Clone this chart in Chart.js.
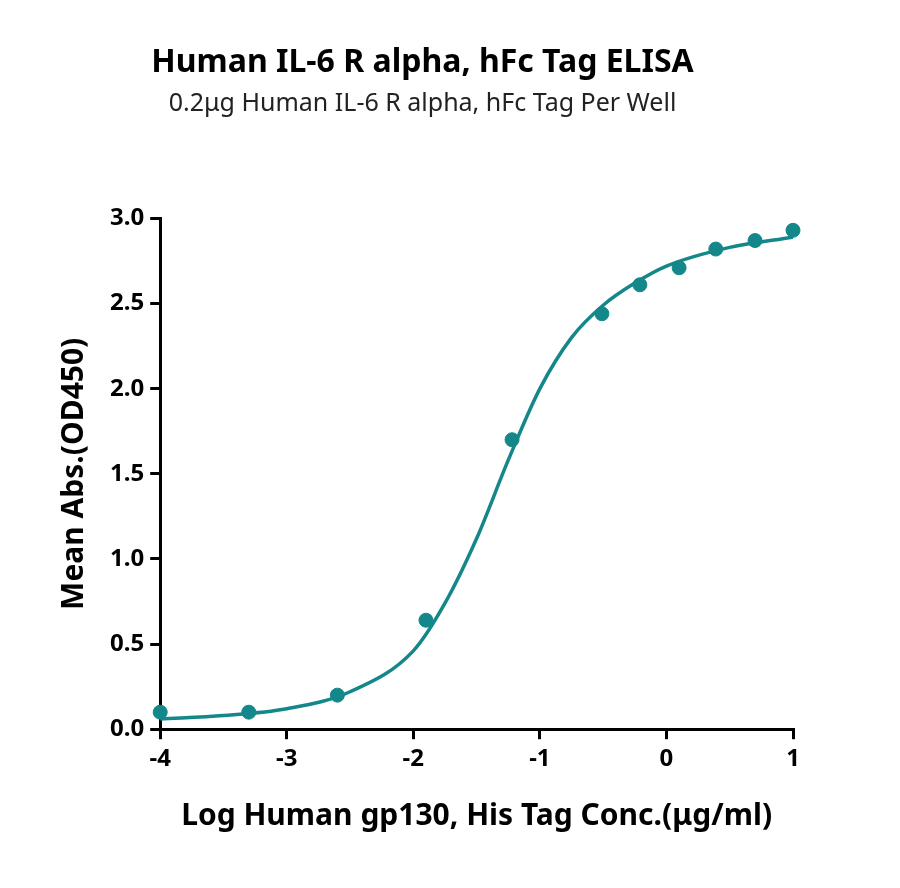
<!DOCTYPE html>
<html>
<head>
<meta charset="utf-8">
<script src="https://cdn.jsdelivr.net/npm/chart.js@4"></script>
<style>
  html, body { margin: 0; padding: 0; background: #fff; }
  #wrap { width: 900px; height: 888px; }
</style>
</head>
<body>
<div id="wrap"><canvas id="chart" width="900" height="888"></canvas></div>
<script>
// ─── Data ─────────────────────────────────────────────────────────────────────
const logConc = [-4, -3.3, -2.6, -1.9, -1.22, -0.51, -0.21, 0.1, 0.39, 0.7, 1.0];
const meanAbs = [0.10, 0.10, 0.20, 0.64, 1.70, 2.44, 2.61, 2.71, 2.82, 2.87, 2.93];

// fitted curve
const fitX = [-4, -3.5, -3, -2.5, -2, -1.75, -1.5, -1.25, -1, -0.75, -0.5, -0.25, 0, 0.5, 1];
const fitY = [0.06, 0.08, 0.12, 0.22, 0.46, 0.74, 1.12, 1.58, 2.00, 2.30, 2.49, 2.62, 2.72, 2.83, 2.89];

const xTicks = [-4, -3, -2, -1, 0, 1];
const yTicks = [0, 0.5, 1, 1.5, 2, 2.5, 3];

const teal = '#14878a';
const fontFam = '"Noto Sans", "Open Sans", sans-serif';

new Chart(document.getElementById('chart'), {
  type: 'scatter',
  data: {
    datasets: [
      {
        type: 'line',
        data: fitX.map((x, i) => ({ x, y: fitY[i] })),
        borderColor: teal,
        borderWidth: 3.5,
        pointRadius: 0,
        cubicInterpolationMode: 'monotone',
        fill: false
      },
      {
        data: logConc.map((x, i) => ({ x, y: meanAbs[i] })),
        backgroundColor: teal,
        borderColor: teal,
        pointRadius: 7,
        clip: false
      }
    ]
  },
  options: {
    responsive: false,
    animation: false,
    layout: { padding: { left: 52, right: 107, top: 26, bottom: 50 } },
    plugins: {
      legend: { display: false },
      tooltip: { enabled: false },
      title: {
        display: true,
        text: 'Human IL-6 R alpha, hFc Tag ELISA',
        color: '#000',
        font: { family: fontFam, size: 32, weight: 'bold' },
        padding: { top: 18, bottom: 6 }
      },
      subtitle: {
        display: true,
        text: '0.2μg Human IL-6 R alpha, hFc Tag Per Well',
        color: '#222',
        font: { family: fontFam, size: 25 },
        padding: { bottom: 100 }
      }
    },
    scales: {
      x: {
        type: 'linear',
        min: -4, max: 1,
        afterBuildTicks: s => { s.ticks = xTicks.map(v => ({ value: v })); },
        border: { color: '#000', width: 3 },
        grid: { drawOnChartArea: false, drawTicks: true, tickLength: 10, color: '#000', lineWidth: 3 },
        ticks: { color: '#000', font: { family: fontFam, size: 24, weight: 'bold' }, padding: 6 },
        title: {
          display: true,
          text: 'Log Human gp130, His Tag Conc.(μg/ml)',
          color: '#000',
          font: { family: fontFam, size: 30, weight: 'bold' },
          padding: { top: 18 }
        }
      },
      y: {
        type: 'linear',
        min: 0, max: 3,
        afterBuildTicks: s => { s.ticks = yTicks.map(v => ({ value: v })); },
        border: { color: '#000', width: 3 },
        grid: { drawOnChartArea: false, drawTicks: true, tickLength: 10, color: '#000', lineWidth: 3 },
        ticks: {
          color: '#000',
          font: { family: fontFam, size: 24, weight: 'bold' },
          padding: 6,
          callback: v => v.toFixed(1)
        },
        title: {
          display: true,
          text: 'Mean Abs.(OD450)',
          color: '#000',
          font: { family: fontFam, size: 30, weight: 'bold' },
          padding: { bottom: 12 }
        }
      }
    }
  }
});
</script>
</body>
</html>
